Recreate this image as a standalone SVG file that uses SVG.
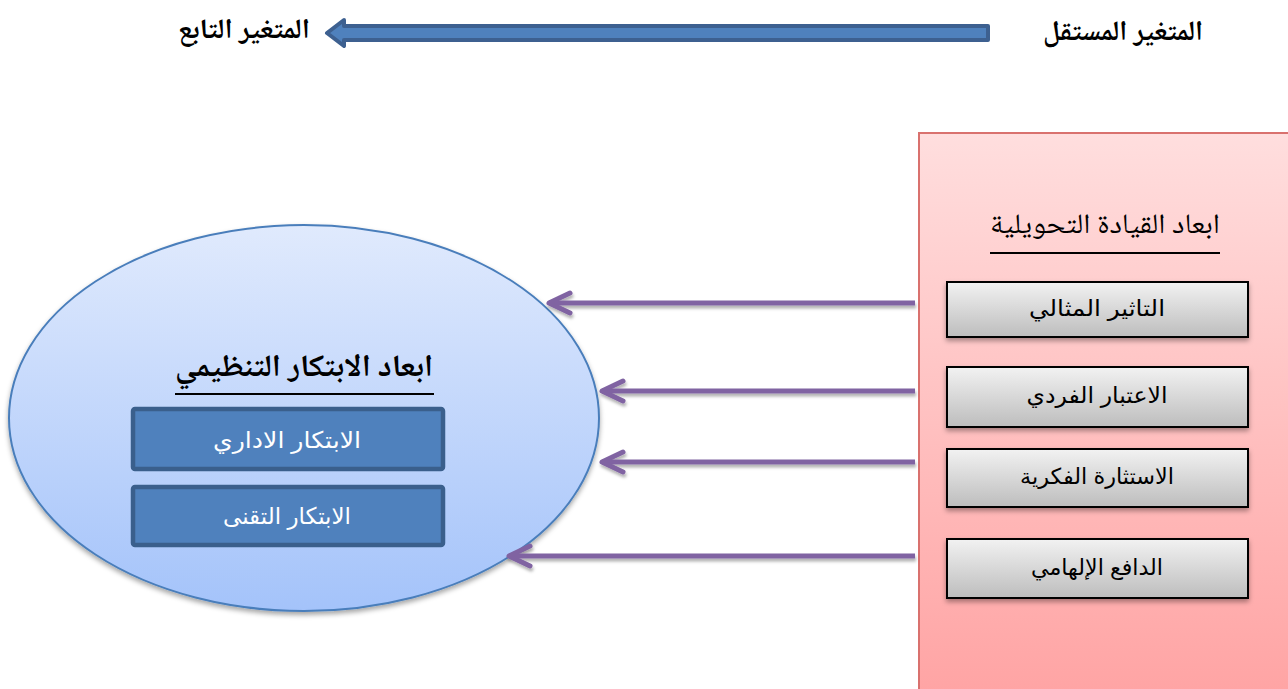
<svg xmlns="http://www.w3.org/2000/svg" width="1288" height="689" viewBox="0 0 1288 689">
  <defs>
    <linearGradient id="gEll" x1="0" y1="0" x2="0" y2="1">
      <stop offset="0" stop-color="#E0EAFD"/>
      <stop offset="1" stop-color="#A4C3FA"/>
    </linearGradient>
    <linearGradient id="gPink" x1="0" y1="0" x2="0" y2="1">
      <stop offset="0" stop-color="#FFDEDE"/>
      <stop offset="1" stop-color="#FFA3A3"/>
    </linearGradient>
    <linearGradient id="gGray" x1="0" y1="0" x2="0" y2="1">
      <stop offset="0" stop-color="#F2F2F2"/>
      <stop offset="1" stop-color="#BDBDBD"/>
    </linearGradient>
    <filter id="sh" x="-10%" y="-10%" width="130%" height="140%">
      <feDropShadow dx="0" dy="3" stdDeviation="2.5" flood-color="#000" flood-opacity="0.35"/>
    </filter>
    <filter id="shA" filterUnits="userSpaceOnUse" x="0" y="0" width="1288" height="689">
      <feDropShadow dx="1" dy="3" stdDeviation="1.5" flood-color="#000" flood-opacity="0.3"/>
    </filter>
    <marker id="chev" markerUnits="userSpaceOnUse" markerWidth="40" markerHeight="40" refX="0" refY="0" viewBox="-30 -20 40 40" orient="auto" overflow="visible">
      <path d="M -21 -10 L 0 0 L -21 10" fill="none" stroke="#8064A2" stroke-width="5" stroke-linecap="round" stroke-linejoin="round"/>
    </marker>
    <style>
      .ttl { font-family: "Noto Naskh Arabic", "DejaVu Serif", "Liberation Serif", serif; fill: #000; }
      .bold { font-weight: bold; }
      .gbox { fill: url(#gGray); stroke: #000; stroke-width: 2; filter: url(#sh); }
      .gtxt { font-family: "Liberation Sans", "DejaVu Sans", sans-serif; font-size: 22px; fill: #000; text-anchor: middle; }
      .bbox { fill: #4F81BD; stroke: #3A5F8C; stroke-width: 4.5; }
      .btxt { font-family: "Liberation Sans", "DejaVu Sans", sans-serif; font-size: 23px; fill: #fff; text-anchor: middle; }
      .conn { stroke: #8064A2; stroke-width: 5; fill: none; marker-end: url(#chev); filter: url(#shA); }
    </style>
  </defs>

  <rect width="1288" height="689" fill="#fff"/>

  <g id="header">
    <path d="M 988 26 L 344 26 L 344 20 L 327 33 L 344 46 L 344 40 L 988 40 Z" fill="#4F81BD" stroke="#3D6090" stroke-width="4" stroke-linejoin="round"/>
    <text class="ttl bold" x="1123" y="40" font-size="28" text-anchor="middle" direction="rtl" textLength="160" lengthAdjust="spacingAndGlyphs">المتغير المستقل</text>
    <text class="ttl bold" x="244" y="38" font-size="28" text-anchor="middle" direction="rtl" textLength="132" lengthAdjust="spacingAndGlyphs">المتغير التابع</text>
  </g>

  <g id="independent">
    <rect x="919" y="133" width="380" height="570" fill="url(#gPink)" stroke="#D9716E" stroke-width="2"/>
    <text class="ttl" x="1105" y="233" font-size="28" text-anchor="middle" direction="rtl" textLength="230" lengthAdjust="spacingAndGlyphs">ابعاد القيادة التحويلية</text>
    <line x1="990" y1="253" x2="1220" y2="253" stroke="#000" stroke-width="2"/>
  </g>

  <g id="n1">
    <rect class="gbox" x="947" y="282" width="301" height="55"/>
    <text class="gtxt" x="1097" y="316" direction="rtl" textLength="136" lengthAdjust="spacingAndGlyphs">التاثير المثالي</text>
  </g>
  <g id="n2">
    <rect class="gbox" x="947" y="367" width="301" height="60"/>
    <text class="gtxt" x="1097" y="403" direction="rtl" textLength="141" lengthAdjust="spacingAndGlyphs">الاعتبار الفردي</text>
  </g>
  <g id="n3">
    <rect class="gbox" x="947" y="449" width="301" height="58"/>
    <text class="gtxt" x="1097" y="484" direction="rtl" textLength="154" lengthAdjust="spacingAndGlyphs">الاستثارة الفكرية</text>
  </g>
  <g id="n4">
    <rect class="gbox" x="947" y="539" width="301" height="59"/>
    <text class="gtxt" x="1097" y="575" direction="rtl" textLength="132" lengthAdjust="spacingAndGlyphs">الدافع الإلهامي</text>
  </g>

  <g id="dependent">
    <ellipse cx="304" cy="418" rx="295" ry="193" fill="url(#gEll)" stroke="#4A7EBB" stroke-width="2" filter="url(#sh)"/>
    <text class="ttl bold" x="304" y="376" font-size="31" text-anchor="middle" direction="rtl" textLength="258" lengthAdjust="spacingAndGlyphs">ابعاد الابتكار التنظيمي</text>
    <line x1="175" y1="394" x2="434" y2="394" stroke="#000" stroke-width="2"/>
  </g>
  <g id="d1">
    <rect class="bbox" x="133" y="409" width="310" height="60" rx="2"/>
    <text class="btxt" x="287" y="448" direction="rtl" textLength="148" lengthAdjust="spacingAndGlyphs">الابتكار الاداري</text>
  </g>
  <g id="d2">
    <rect class="bbox" x="133" y="487" width="310" height="58" rx="2"/>
    <text class="btxt" x="287" y="524" direction="rtl" textLength="128" lengthAdjust="spacingAndGlyphs">الابتكار التقنى</text>
  </g>

  <g id="connectors">
    <line class="conn" x1="915" y1="303" x2="549" y2="303"/>
    <line class="conn" x1="915" y1="391" x2="602" y2="391"/>
    <line class="conn" x1="915" y1="462" x2="602" y2="462"/>
    <line class="conn" x1="915" y1="556" x2="509" y2="556"/>
  </g>
</svg>
